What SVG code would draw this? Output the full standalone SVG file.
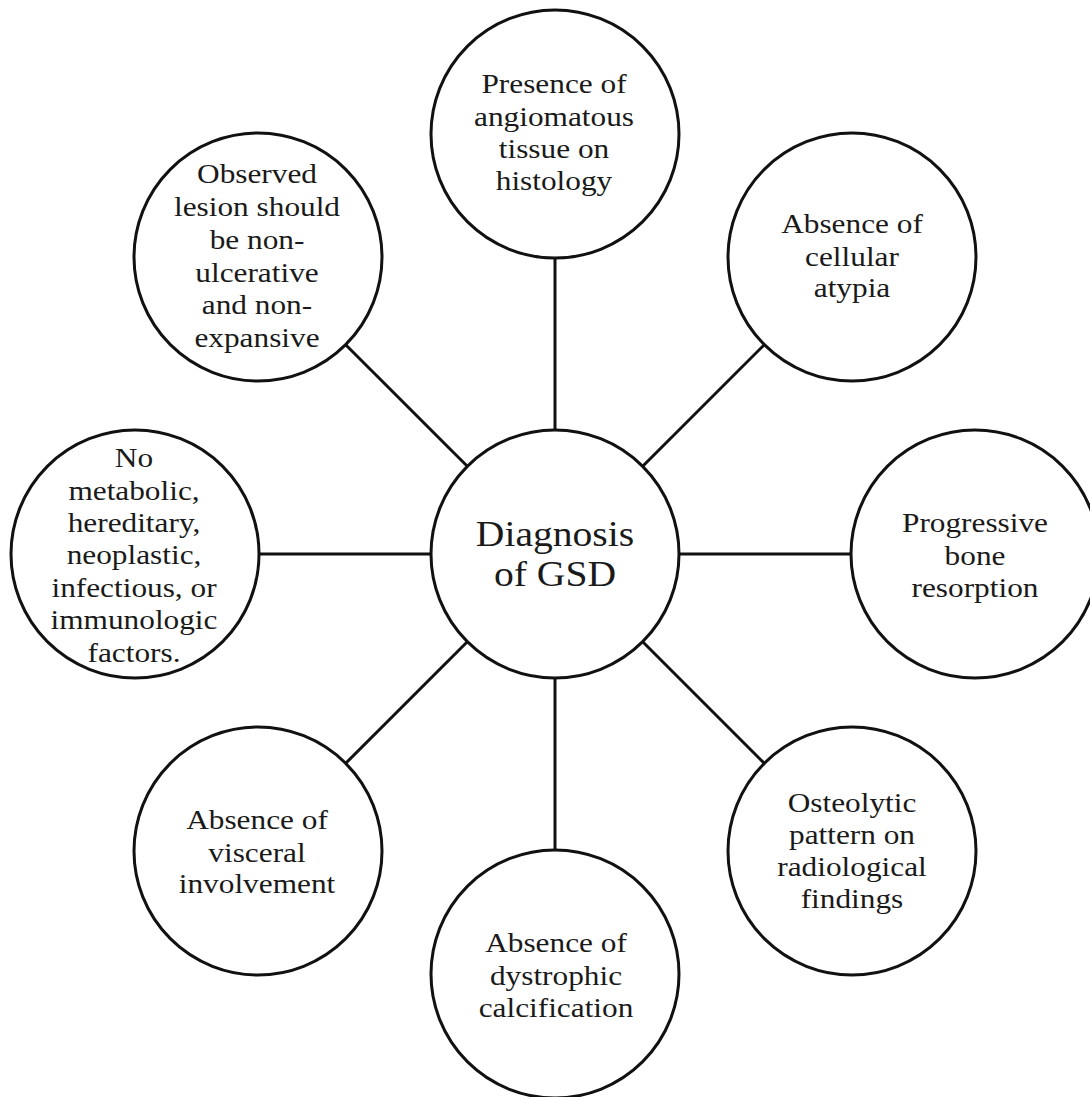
<svg xmlns="http://www.w3.org/2000/svg" width="1090" height="1097" viewBox="0 0 1090 1097">
<style>
.c{fill:#fff;stroke:#111;stroke-width:3}
.l{stroke:#111;stroke-width:3;fill:none}
.t{font-family:"Liberation Serif","Times New Roman",serif;font-size:27px;fill:#1a1a1a;text-anchor:middle}
.m{font-family:"Liberation Serif","Times New Roman",serif;font-size:36px;fill:#1a1a1a;text-anchor:middle}
</style>
<rect width="1090" height="1097" fill="#fff"/>
<g id="connectors">
<line class="l" x1="555" y1="430" x2="555" y2="258"/>
<line class="l" x1="642.7" y1="466.3" x2="764.3" y2="344.7"/>
<line class="l" x1="679" y1="554" x2="851" y2="554"/>
<line class="l" x1="642.7" y1="641.7" x2="764.3" y2="763.3"/>
<line class="l" x1="555" y1="678" x2="555" y2="850"/>
<line class="l" x1="467.3" y1="641.7" x2="345.7" y2="763.3"/>
<line class="l" x1="431" y1="554" x2="259" y2="554"/>
<line class="l" x1="467.3" y1="466.3" x2="345.7" y2="344.7"/>
</g>
<g id="center">
<circle class="c" cx="555" cy="554" r="124"/>
<text class="m" transform="matrix(1.1 0 0 1 555 0)"><tspan x="0" y="546">Diagnosis</tspan><tspan x="0" y="586">of GSD</tspan></text>
</g>
<g id="top">
<circle class="c" cx="555" cy="134" r="124"/>
<text class="t" transform="matrix(1.16 0 0 1 554 0)"><tspan x="0" y="93">Presence of</tspan><tspan x="0" y="126">angiomatous</tspan><tspan x="0" y="158">tissue on</tspan><tspan x="0" y="190">histology</tspan></text>
</g>
<g id="upper-right">
<circle class="c" cx="852" cy="257" r="124"/>
<text class="t" transform="matrix(1.16 0 0 1 852 0)"><tspan x="0" y="233">Absence of</tspan><tspan x="0" y="266">cellular</tspan><tspan x="0" y="297">atypia</tspan></text>
</g>
<g id="right">
<circle class="c" cx="975" cy="554" r="124"/>
<text class="t" transform="matrix(1.16 0 0 1 975 0)"><tspan x="0" y="532">Progressive</tspan><tspan x="0" y="565">bone</tspan><tspan x="0" y="597">resorption</tspan></text>
</g>
<g id="lower-right">
<circle class="c" cx="852" cy="851" r="124"/>
<text class="t" transform="matrix(1.16 0 0 1 852 0)"><tspan x="0" y="812">Osteolytic</tspan><tspan x="0" y="844">pattern on</tspan><tspan x="0" y="876">radiological</tspan><tspan x="0" y="908">findings</tspan></text>
</g>
<g id="bottom">
<circle class="c" cx="555" cy="974" r="124"/>
<text class="t" transform="matrix(1.16 0 0 1 556 0)"><tspan x="0" y="952">Absence of</tspan><tspan x="0" y="985">dystrophic</tspan><tspan x="0" y="1017">calcification</tspan></text>
</g>
<g id="lower-left">
<circle class="c" cx="258" cy="851" r="124"/>
<text class="t" transform="matrix(1.16 0 0 1 257 0)"><tspan x="0" y="829">Absence of</tspan><tspan x="0" y="862">visceral</tspan><tspan x="0" y="893">involvement</tspan></text>
</g>
<g id="left">
<circle class="c" cx="135" cy="554" r="124"/>
<text class="t" transform="matrix(1.16 0 0 1 134 0)"><tspan x="0" y="467">No</tspan><tspan x="0" y="500">metabolic,</tspan><tspan x="0" y="532">hereditary,</tspan><tspan x="0" y="564">neoplastic,</tspan><tspan x="0" y="597">infectious, or</tspan><tspan x="0" y="629">immunologic</tspan><tspan x="0" y="662">factors.</tspan></text>
</g>
<g id="upper-left">
<circle class="c" cx="258" cy="257" r="124"/>
<text class="t" transform="matrix(1.16 0 0 1 257 0)"><tspan x="0" y="183">Observed</tspan><tspan x="0" y="216">lesion should</tspan><tspan x="0" y="249">be non-</tspan><tspan x="0" y="282">ulcerative</tspan><tspan x="0" y="314">and non-</tspan><tspan x="0" y="347">expansive</tspan></text>
</g>
</svg>
